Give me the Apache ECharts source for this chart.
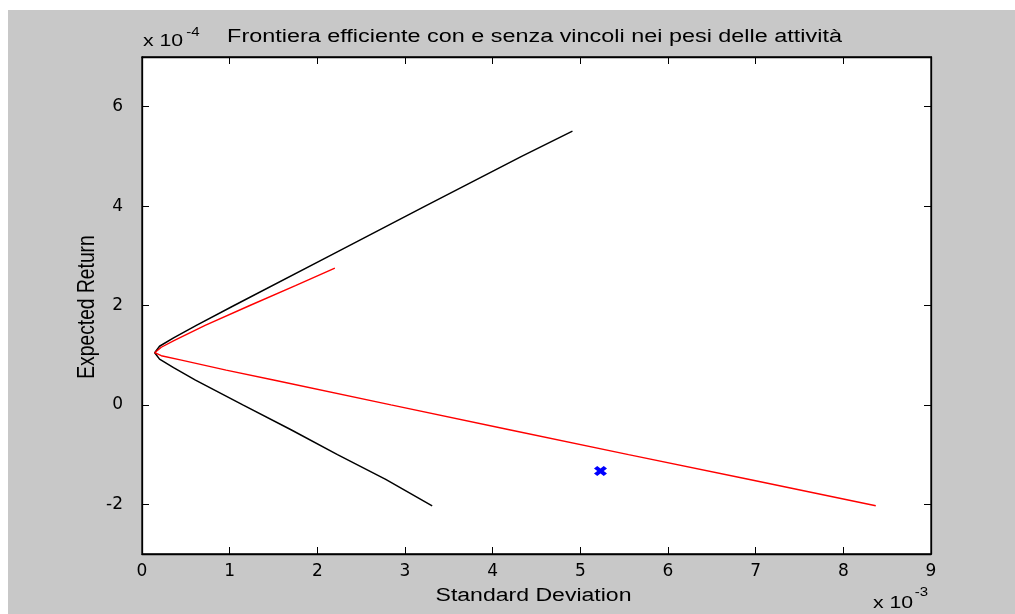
<!DOCTYPE html>
<html>
<head>
<meta charset="utf-8">
<script src="https://cdn.jsdelivr.net/npm/echarts@6/dist/echarts.min.js"></script>
<style>
  html, body { margin: 0; padding: 0; background: #ffffff; }
  #chart { width: 1015px; height: 614px; }
</style>
</head>
<body>
<div id="chart"></div>
<script>
// Standard deviation in units of 1e-3, expected return in units of 1e-4.

// Unconstrained efficient frontier (black)
const freeSigma  = [3.31, 2.78, 2.23, 1.70, 1.15, 0.61, 0.36, 0.20, 0.145, 0.20, 0.36, 0.62, 1.05, 2.14, 3.23, 4.33, 4.91];
const freeReturn = [-2.03, -1.5, -1.0, -0.5, 0.0, 0.5, 0.75, 0.92, 1.05, 1.18, 1.35, 1.6, 2.0, 3.0, 4.0, 5.0, 5.51];

// Frontier with weight constraints (red)
const boundSigma  = [8.37, 6.93, 5.55, 4.19, 2.84, 1.50, 0.96, 0.45, 0.22, 0.145, 0.22, 0.37, 0.72, 1.23, 1.75, 2.20];
const boundReturn = [-2.03, -1.5, -1.0, -0.5, 0.0, 0.5, 0.7, 0.9, 0.99, 1.05, 1.16, 1.3, 1.6, 2.0, 2.4, 2.75];

// Single portfolio marker (blue cross)
const pointSigma  = [5.23];
const pointReturn = [-1.33];

// Axis ticks
const xTicks = [0, 1, 2, 3, 4, 5, 6, 7, 8, 9];
const yTicks = [-2, 0, 2, 4, 6];

const toPairs = (xs, ys) => xs.map((x, i) => [x, ys[i]]);

const FONT = '"Liberation Sans", Arial, sans-serif';
const TICK_FONT = '"DejaVu Sans", sans-serif';
const chart = echarts.init(document.getElementById('chart'), null, { renderer: 'canvas' });

const tickStyle = { show: true, inside: true, length: 7, lineStyle: { color: '#000', width: 1 } };
const axisLineStyle = { show: true, onZero: false, lineStyle: { color: '#000', width: 1.3 } };

// Wide-set text drawn as graphic elements so it can be stretched horizontally
function label(text, x, y, size, sx, extra) {
  return Object.assign({
    type: 'text', x: x, y: y, scaleX: sx, scaleY: 1, silent: true, z: 10,
    style: {
      text: text, fill: '#000', font: size + 'px ' + FONT,
      textAlign: 'center', textVerticalAlign: 'middle'
    }
  }, extra || {});
}

chart.setOption({
  backgroundColor: '#ffffff',
  animation: false,
  graphic: [
    { type: 'rect', z: -10, silent: true, shape: { x: 8, y: 10, width: 1007, height: 604 }, style: { fill: '#c8c8c8' } },
    label('Frontiera efficiente con e senza vincoli nei pesi delle attività', 534.5, 37, 18, 1.3),
    label('Standard Deviation', 533.5, 596, 18, 1.28),
    {
      type: 'text', x: 88, y: 307, rotation: Math.PI / 2, scaleX: 1.07, scaleY: 1.3, silent: true, z: 10,
      style: { text: 'Expected Return', fill: '#000', font: '18px ' + FONT, textAlign: 'center', textVerticalAlign: 'middle' }
    },
    label('x 10', 163, 41, 17, 1.25),
    label('-4', 193, 33, 12, 1.25),
    label('x 10', 893, 603.5, 17, 1.25),
    label('-3', 921.5, 593, 12, 1.25)
  ],
  grid: {
    left: 142, right: 84, top: 57, bottom: 60,
    show: true, backgroundColor: '#ffffff', borderColor: '#000', borderWidth: 1.3
  },
  xAxis: [
    {
      type: 'value', min: 0, max: 9, interval: 1, position: 'bottom',
      axisLine: axisLineStyle, axisTick: tickStyle, splitLine: { show: false },
      axisLabel: { margin: 9, fontFamily: TICK_FONT, fontSize: 17, color: '#000', customValues: xTicks }
    },
    {
      type: 'value', min: 0, max: 9, interval: 1, position: 'top',
      axisLine: axisLineStyle, axisTick: tickStyle, splitLine: { show: false },
      axisLabel: { show: false }
    }
  ],
  yAxis: [
    {
      type: 'value', min: -3, max: 7, interval: 1, position: 'left',
      axisLine: axisLineStyle,
      axisTick: Object.assign({ customValues: yTicks }, tickStyle),
      splitLine: { show: false },
      axisLabel: { margin: 19, fontFamily: TICK_FONT, fontSize: 17, color: '#000', customValues: yTicks }
    },
    {
      type: 'value', min: -3, max: 7, interval: 1, position: 'right',
      axisLine: axisLineStyle,
      axisTick: Object.assign({ customValues: yTicks }, tickStyle),
      splitLine: { show: false }, axisLabel: { show: false }
    }
  ],
  series: [
    {
      name: 'Senza vincoli', type: 'line', data: toPairs(freeSigma, freeReturn),
      showSymbol: false, lineStyle: { color: '#000', width: 1.5 }, z: 2
    },
    {
      name: 'Con vincoli', type: 'line', data: toPairs(boundSigma, boundReturn),
      showSymbol: false, lineStyle: { color: '#ff0000', width: 1.4 }, z: 3
    },
    {
      name: 'Portafoglio', type: 'scatter', data: toPairs(pointSigma, pointReturn),
      symbol: 'path://M0,2.5 L2.5,0 L5,2.5 L7.5,0 L10,2.5 L7.5,5 L10,7.5 L7.5,10 L5,7.5 L2.5,10 L0,7.5 L2.5,5 Z',
      symbolSize: [13, 10], itemStyle: { color: '#0000ff', opacity: 1 }, z: 4
    }
  ]
});
</script>
</body>
</html>
